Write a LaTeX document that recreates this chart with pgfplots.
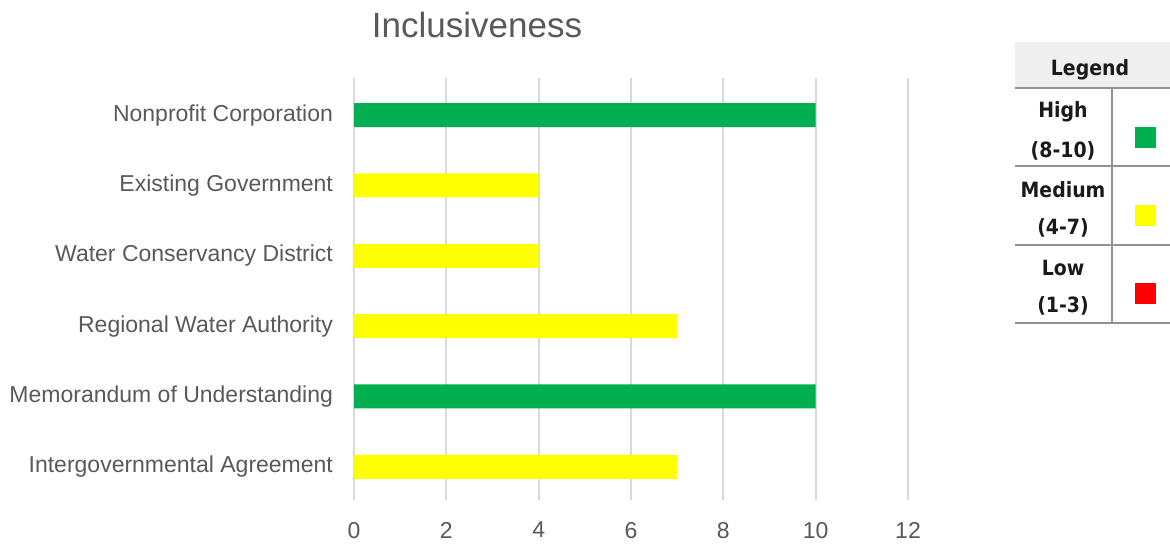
\documentclass[border=0pt]{standalone}
\usepackage{pgfplots}
\pgfplotsset{compat=1.18}
\usepackage{fontspec}
\setmainfont{Liberation Sans}
\newfontfamily\legendfont{DejaVu Sans Condensed}
\definecolor{txtgray}{HTML}{595959}
\definecolor{gridgray}{HTML}{D9D9D9}
\definecolor{hi}{HTML}{00B050}
\definecolor{med}{HTML}{FFFF00}
\definecolor{lo}{HTML}{FF0000}
\definecolor{rulegray}{HTML}{8C968C}
\definecolor{headbg}{HTML}{EFEFEF}
\definecolor{legtxt}{HTML}{1A1A1A}
\begin{document}
\begin{tikzpicture}[x=1pt,y=1pt]
\path[use as bounding box] (0,0) rectangle (585,271.5);
\begin{axis}[
  at={(177pt,21.5pt)}, anchor=south west,
  scale only axis, width=277pt, height=211pt,
  xbar, bar width=12pt, bar shift=0pt,
  xmin=0, xmax=12, xtick={0,2,...,12},
  ymin=-0.472, ymax=5.528, ytick={0,...,5},
  yticklabels={Intergovernmental Agreement, Memorandum of Understanding, Regional Water Authority, Water Conservancy District, Existing Government, Nonprofit Corporation},
  axis line style={draw=none},
  major tick length=0pt,
  xmajorgrids, grid style={gridgray, line width=1pt},
  tick label style={text=txtgray},
  xticklabel style={font=\fontsize{11.5}{13}\selectfont, yshift=-7.5pt},
  yticklabel style={font=\fontsize{11.5}{13}\selectfont, xshift=-7pt},
  /pgf/number format/assume math mode=true,
]
\addplot[fill=hi, draw=none] coordinates {(10,5) (10,1)};
\addplot[fill=med, draw=none] coordinates {(4,4) (4,3) (7,2) (7,0)};
\end{axis}
% title
\node[text=txtgray, font=\fontsize{17.5}{20}\selectfont] at (238.5,259) {Inclusiveness};
% legend table
\fill[headbg] (507.5,228) rectangle (585,250.5);
\node[text=legtxt, font=\legendfont\bfseries\fontsize{10.5}{12}\selectfont] at (545,236.5) {Legend};
\draw[rulegray, line width=1pt] (507.5,227.5) -- (585,227.5)
  (507.5,188.5) -- (585,188.5) (507.5,149) -- (585,149) (507.5,110) -- (585,110)
  (556,227.5) -- (556,110);
\begin{scope}[every node/.style={text=legtxt, font=\legendfont\bfseries\fontsize{10.5}{12}\selectfont}]
\node at (531.5,215.5) {High};
\node at (531.5,196) {(8-10)};
\node at (531.5,176.5) {Medium};
\node at (531.5,157.5) {(4-7)};
\node at (531.5,137.5) {Low};
\node at (531.5,118.5) {(1-3)};
\end{scope}
\fill[hi] (567.25,197.75) rectangle (577.75,208.25);
\fill[med] (567.25,158.75) rectangle (577.75,169.25);
\fill[lo] (567.25,119.75) rectangle (577.75,130.25);
\end{tikzpicture}
\end{document}
